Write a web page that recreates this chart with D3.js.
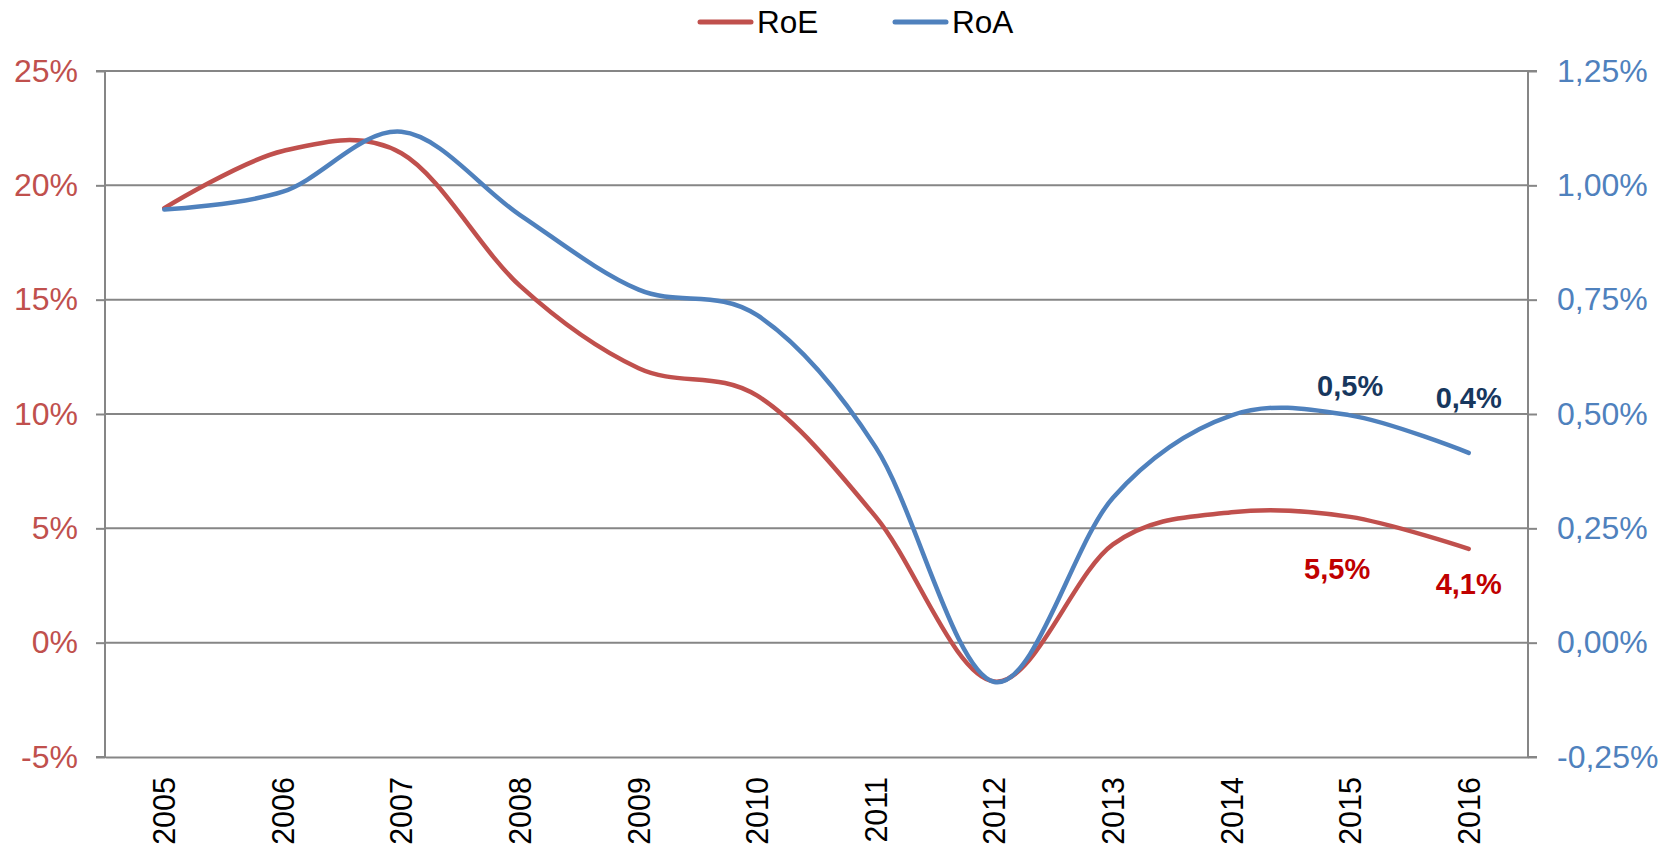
<!DOCTYPE html>
<html>
<head>
<meta charset="utf-8">
<script src="https://cdn.jsdelivr.net/npm/d3@7"></script>
<style>
  body { margin: 0; background: #fff; }
  svg text { font-family: "Liberation Sans", Arial, sans-serif; }
</style>
</head>
<body>
<div id="chart"></div>
<script>
const w = 1671;
const h = 849;

const years = ["2005", "2006", "2007", "2008", "2009", "2010", "2011", "2012", "2013", "2014", "2015", "2016"];
const roe = [19.0, 21.5, 21.4, 15.6, 12.0, 10.8, 5.5, -1.7, 4.3, 5.7, 5.5, 4.1];
const roa = [0.947, 0.986, 1.117, 0.935, 0.772, 0.716, 0.427, -0.086, 0.317, 0.497, 0.497, 0.415];
const leftTicks = [-5, 0, 5, 10, 15, 20, 25];
const rightTicks = [-0.25, 0, 0.25, 0.5, 0.75, 1.0, 1.25];
const labels = [
  { series: "roa", i: 10, text: "0,5%" },
  { series: "roa", i: 11, text: "0,4%" },
  { series: "roe", i: 10, text: "5,5%" },
  { series: "roe", i: 11, text: "4,1%" }
];

const red = "#C0504D";
const blue = "#4F81BD";
const grid = "#868686";
const font = "Liberation Sans, Arial, sans-serif";

const m = { left: 105, right: 1528, top: 71, bottom: 757 };

const svg = d3.select("#chart").append("svg").attr("width", w).attr("height", h);

const x = d3.scaleBand().domain(years).range([m.left, m.right]);
const cx = (d) => x(d) + x.bandwidth() / 2;
const yL = d3.scaleLinear().domain([-5, 25]).range([m.bottom, m.top]);
const yR = d3.scaleLinear().domain([-0.25, 1.25]).range([m.bottom, m.top]);

// gridlines
svg.append("g")
  .selectAll("line")
  .data(leftTicks.slice(1))
  .enter()
  .append("line")
  .attr("x1", m.left)
  .attr("x2", m.right)
  .attr("y1", (d) => yL(d))
  .attr("y2", (d) => yL(d))
  .attr("stroke", grid)
  .attr("stroke-width", 2);

// left axis
const leftAxis = d3.axisLeft(yL)
  .tickValues(leftTicks)
  .tickSize(9)
  .tickPadding(18)
  .tickFormat((d) => d + "%");
const gl = svg.append("g").attr("transform", `translate(${m.left},0)`).call(leftAxis);
gl.select(".domain").attr("stroke", grid).attr("stroke-width", 2).attr("d", `M-9,${m.top}H0V${m.bottom}H-9`);
gl.selectAll(".tick line").attr("stroke", grid).attr("stroke-width", 2);
gl.selectAll(".tick text").attr("fill", red).attr("font-size", 32).attr("font-family", font);

// right axis
const rightAxis = d3.axisRight(yR)
  .tickValues(rightTicks)
  .tickSize(9)
  .tickPadding(20)
  .tickFormat((d) => d.toFixed(2).replace(".", ",") + "%");
const gr = svg.append("g").attr("transform", `translate(${m.right},0)`).call(rightAxis);
gr.select(".domain").attr("stroke", grid).attr("stroke-width", 2).attr("d", `M9,${m.top}H0V${m.bottom}H9`);
gr.selectAll(".tick line").attr("stroke", grid).attr("stroke-width", 2);
gr.selectAll(".tick text").attr("fill", blue).attr("font-size", 32).attr("font-family", font);

// bottom axis
const bottomAxis = d3.axisBottom(x).tickSize(0).tickPadding(0);
const gb = svg.append("g").attr("transform", `translate(0,${m.bottom})`).call(bottomAxis);
gb.select(".domain").attr("stroke", grid).attr("stroke-width", 2);
gb.selectAll(".tick text")
  .attr("fill", "#000")
  .attr("font-size", 30.5)
  .attr("font-family", font)
  .attr("text-anchor", "end")
  .attr("dy", null)
  .attr("y", null)
  .attr("dominant-baseline", "central")
  .attr("transform", "translate(0,20) rotate(-90)");

// lines
const curve = d3.curveCardinal.tension(0);
const lineL = d3.line().x((d, i) => cx(years[i])).y((d) => yL(d)).curve(curve);
const lineR = d3.line().x((d, i) => cx(years[i])).y((d) => yR(d)).curve(curve);

svg.append("path").datum(roe).attr("d", lineL)
  .attr("fill", "none").attr("stroke", red).attr("stroke-width", 4.5).attr("stroke-linecap", "round");
svg.append("path").datum(roa).attr("d", lineR)
  .attr("fill", "none").attr("stroke", blue).attr("stroke-width", 4.5).attr("stroke-linecap", "round");

// data labels
const labelOffset = { "0,5%": [0, -29], "0,4%": [0, -55], "5,5%": [-13, 52], "4,1%": [0, 35] };
svg.append("g")
  .selectAll("text")
  .data(labels)
  .enter()
  .append("text")
  .attr("x", (d) => cx(years[d.i]) + labelOffset[d.text][0])
  .attr("y", (d) => (d.series === "roa" ? yR(roa[d.i]) : yL(roe[d.i])) + labelOffset[d.text][1])
  .attr("text-anchor", "middle")
  .attr("dominant-baseline", "central")
  .attr("font-size", 29)
  .attr("font-weight", "bold")
  .attr("fill", (d) => (d.series === "roa" ? "#17375E" : "#C00000"))
  .text((d) => d.text);

// legend
const legend = [
  { name: "RoE", color: red, x: 700 },
  { name: "RoA", color: blue, x: 895 }
];
const lg = svg.append("g").selectAll("g").data(legend).enter().append("g");
lg.append("line")
  .attr("x1", (d) => d.x)
  .attr("x2", (d) => d.x + 51)
  .attr("y1", 22)
  .attr("y2", 22)
  .attr("stroke", (d) => d.color)
  .attr("stroke-width", 5)
  .attr("stroke-linecap", "round");
lg.append("text")
  .attr("x", (d) => d.x + 57)
  .attr("y", 22)
  .attr("dominant-baseline", "central")
  .attr("font-size", 31.5)
  .attr("fill", "#000")
  .text((d) => d.name);
</script>
</body>
</html>
